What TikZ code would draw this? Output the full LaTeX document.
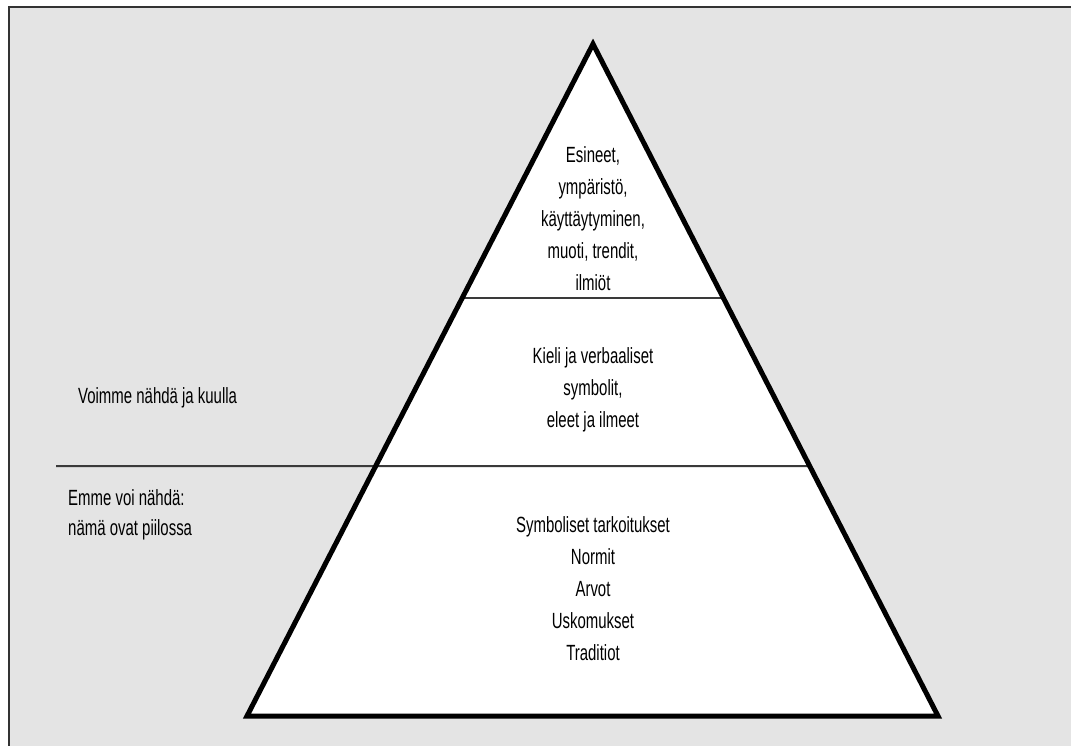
\documentclass[tikz,border=0pt]{standalone}
\usepackage{fontspec}
\setmainfont{Liberation Sans}[FakeStretch=0.68]
\usetikzlibrary{calc}
\definecolor{bggray}{HTML}{E4E4E4}
\definecolor{framegray}{HTML}{333333}
\definecolor{linegray}{HTML}{3A3A3A}
\tikzset{
  txt/.style={inner sep=0pt, font=\fontsize{22}{32}\selectfont, align=center, text=black},
  sidetxt/.style={inner sep=0pt, font=\fontsize{22}{30}\selectfont, align=left, anchor=west, text=black},
  thinline/.style={draw=linegray, line width=2pt},
  pyramid/.style={draw=black, line width=5pt, line join=miter}
}
\begin{document}
\begin{tikzpicture}[x=1pt,y=-1pt]
\useasboundingbox (0,0) rectangle (1071,745);
\clip (0,0) rectangle (1071,745);
\fill[white] (0,0) rectangle (1071,745);
\draw[fill=bggray, draw=framegray, line width=2pt] (9,7) rectangle (1090,760);
\coordinate (apex) at (593,44);
\coordinate (bl) at (247,716);
\coordinate (br) at (938,716);
\fill[white] (apex) -- (bl) -- (br) -- cycle;
\coordinate (l1) at ($(apex)!0.378!(bl)$);
\coordinate (r1) at ($(apex)!0.378!(br)$);
\coordinate (l2) at (56,466);
\coordinate (r2) at ($(apex)!0.628!(br)$);
\draw[thinline] (l1) -- (r1);
\draw[thinline] (l2) -- (r2);
\draw[pyramid] (apex) -- (bl) -- (br) -- cycle;
\node[txt] (top) at (593,219) {Esineet,\\ympäristö,\\käyttäytyminen,\\muoti, trendit,\\ilmiöt};
\node[txt] (mid) at (593,390) {Kieli ja verbaaliset\\symbolit,\\eleet ja ilmeet};
\node[txt] (bot) at (593,589) {Symboliset tarkoitukset\\Normit\\Arvot\\Uskomukset\\Traditiot};
\node[sidetxt] (see) at (78,398) {Voimme nähdä ja kuulla};
\node[sidetxt] (hidden) at (68,515) {Emme voi nähdä:\\nämä ovat piilossa};
\end{tikzpicture}
\end{document}
